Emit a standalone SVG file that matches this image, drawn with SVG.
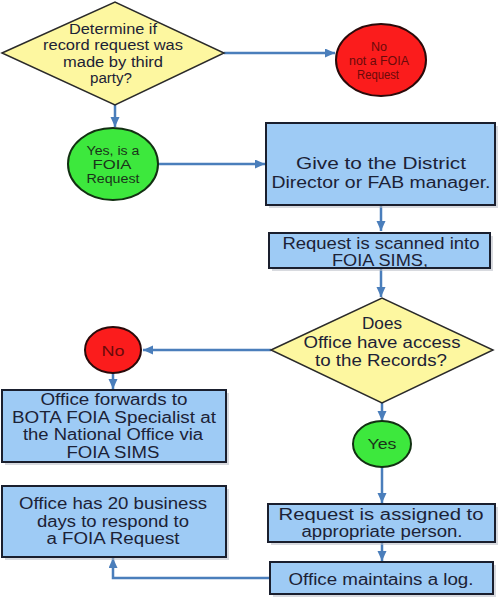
<svg xmlns="http://www.w3.org/2000/svg" width="499" height="601" viewBox="0 0 499 601">
<defs>
<marker id="ah" markerUnits="userSpaceOnUse" markerWidth="12" markerHeight="10" refX="10" refY="4.5" orient="auto">
<path d="M0,0 L10,4.5 L0,9 z" fill="#4a7ebb"/>
</marker>
<style>
text{font-family:"Liberation Sans",Arial,sans-serif;text-anchor:middle;dominant-baseline:central;fill:#1c2236}
.box{fill:#9ecbf5;stroke:#1a1f2e;stroke-width:2}
.sh{fill:#b8bcc4;opacity:.55}
.dia{fill:#fdf7a0;stroke:#2a2a2a;stroke-width:1.5}
.red{fill:#fb1c1c;stroke:#2a0a0a;stroke-width:2}
.grn{fill:#3de83d;stroke:#123012;stroke-width:2}
.c{fill:none;stroke:#4a7ebb;stroke-width:2.5}
.rt{fill:#6a0a0a}
.gt{fill:#1a331a}
</style>
</defs>
<rect width="499" height="601" fill="#ffffff"/>
<g id="connectors">
<path class="c" d="M224,53 H335" marker-end="url(#ah)"/>
<path class="c" d="M115,105 V127" marker-end="url(#ah)"/>
<path class="c" d="M158,164 H265" marker-end="url(#ah)"/>
<path class="c" d="M381,205 V231" marker-end="url(#ah)"/>
<path class="c" d="M381,268 V297" marker-end="url(#ah)"/>
<path class="c" d="M271,350 H143" marker-end="url(#ah)"/>
<path class="c" d="M113,373 V389" marker-end="url(#ah)"/>
<path class="c" d="M382,403 V421" marker-end="url(#ah)"/>
<path class="c" d="M382,467 V503" marker-end="url(#ah)"/>
<path class="c" d="M382,542 V561" marker-end="url(#ah)"/>
<path class="c" d="M270,578 H113 V558" marker-end="url(#ah)"/>
</g>
<g id="decision1">
<polygon class="dia" points="2,53 115,2 224,53 115,105"/>
<text x="113" y="29" font-size="14" textLength="88" lengthAdjust="spacingAndGlyphs">Determine if</text>
<text x="113" y="45" font-size="14" textLength="140" lengthAdjust="spacingAndGlyphs">record request was</text>
<text x="113" y="62" font-size="14" textLength="100" lengthAdjust="spacingAndGlyphs">made by third</text>
<text x="111" y="78" font-size="14" textLength="42" lengthAdjust="spacingAndGlyphs">party?</text>
</g>
<g id="notFoia">
<ellipse class="red" cx="381" cy="60" rx="45" ry="36"/>
<text class="rt" x="379" y="47" font-size="12" textLength="16" lengthAdjust="spacingAndGlyphs">No</text>
<text class="rt" x="379" y="61" font-size="12" textLength="60" lengthAdjust="spacingAndGlyphs">not a FOIA</text>
<text class="rt" x="378" y="75" font-size="12" textLength="42" lengthAdjust="spacingAndGlyphs">Request</text>
</g>
<g id="isFoia">
<ellipse class="grn" cx="113" cy="164" rx="45" ry="36"/>
<text class="gt" x="113" y="151" font-size="12" textLength="53" lengthAdjust="spacingAndGlyphs">Yes, is a</text>
<text class="gt" x="112" y="165" font-size="12" textLength="39" lengthAdjust="spacingAndGlyphs">FOIA</text>
<text class="gt" x="113" y="179" font-size="12" textLength="53" lengthAdjust="spacingAndGlyphs">Request</text>
</g>
<g id="giveDirector">
<rect class="sh" x="269" y="126" width="229" height="82"/>
<rect class="box" x="266" y="123" width="229" height="82"/>
<text x="381" y="163" font-size="16" textLength="170" lengthAdjust="spacingAndGlyphs">Give to the District</text>
<text x="381" y="182" font-size="16" textLength="219" lengthAdjust="spacingAndGlyphs">Director or FAB manager.</text>
</g>
<g id="scanned">
<rect class="sh" x="272" y="236" width="221" height="35"/>
<rect class="box" x="269" y="233" width="221" height="35"/>
<text x="381" y="243" font-size="16" textLength="197" lengthAdjust="spacingAndGlyphs">Request is scanned into</text>
<text x="380" y="260" font-size="16" textLength="96" lengthAdjust="spacingAndGlyphs">FOIA SIMS,</text>
</g>
<g id="decision2">
<polygon class="dia" points="271,350 382,298 493,350 382,403"/>
<text x="382" y="323" font-size="16" textLength="40" lengthAdjust="spacingAndGlyphs">Does</text>
<text x="382" y="342" font-size="16" textLength="157" lengthAdjust="spacingAndGlyphs">Office have access</text>
<text x="381" y="360" font-size="16" textLength="132" lengthAdjust="spacingAndGlyphs">to the Records?</text>
</g>
<g id="noAccess">
<ellipse class="red" cx="113" cy="350" rx="28" ry="23"/>
<text class="rt" x="113" y="351" font-size="14" textLength="23" lengthAdjust="spacingAndGlyphs">No</text>
</g>
<g id="forwards">
<rect class="sh" x="5" y="393" width="224" height="72"/>
<rect class="box" x="2" y="390" width="224" height="72"/>
<text x="114" y="399" font-size="16" textLength="147" lengthAdjust="spacingAndGlyphs">Office forwards to</text>
<text x="114" y="417" font-size="16" textLength="204" lengthAdjust="spacingAndGlyphs">BOTA FOIA Specialist at</text>
<text x="113" y="434" font-size="16" textLength="180" lengthAdjust="spacingAndGlyphs">the National Office via</text>
<text x="113" y="452" font-size="16" textLength="93" lengthAdjust="spacingAndGlyphs">FOIA SIMS</text>
</g>
<g id="twentyDays">
<rect class="sh" x="5" y="489" width="224" height="71"/>
<rect class="box" x="2" y="486" width="224" height="71"/>
<text x="113" y="503" font-size="16" textLength="188" lengthAdjust="spacingAndGlyphs">Office has 20 business</text>
<text x="113" y="521" font-size="16" textLength="152" lengthAdjust="spacingAndGlyphs">days to respond to</text>
<text x="113" y="538" font-size="16" textLength="133" lengthAdjust="spacingAndGlyphs">a FOIA Request</text>
</g>
<g id="yesAccess">
<ellipse class="grn" cx="382" cy="444" rx="29" ry="23"/>
<text class="gt" x="382" y="444" font-size="14" textLength="29" lengthAdjust="spacingAndGlyphs">Yes</text>
</g>
<g id="assigned">
<rect class="sh" x="271" y="507" width="227" height="38"/>
<rect class="box" x="268" y="504" width="227" height="38"/>
<text x="381" y="514" font-size="16" textLength="205" lengthAdjust="spacingAndGlyphs">Request is assigned to</text>
<text x="382" y="531" font-size="16" textLength="161" lengthAdjust="spacingAndGlyphs">appropriate person.</text>
</g>
<g id="log">
<rect class="sh" x="273" y="565" width="223" height="32"/>
<rect class="box" x="270" y="562" width="223" height="32"/>
<text x="381" y="579" font-size="16" textLength="185" lengthAdjust="spacingAndGlyphs">Office maintains a log.</text>
</g>
</svg>
